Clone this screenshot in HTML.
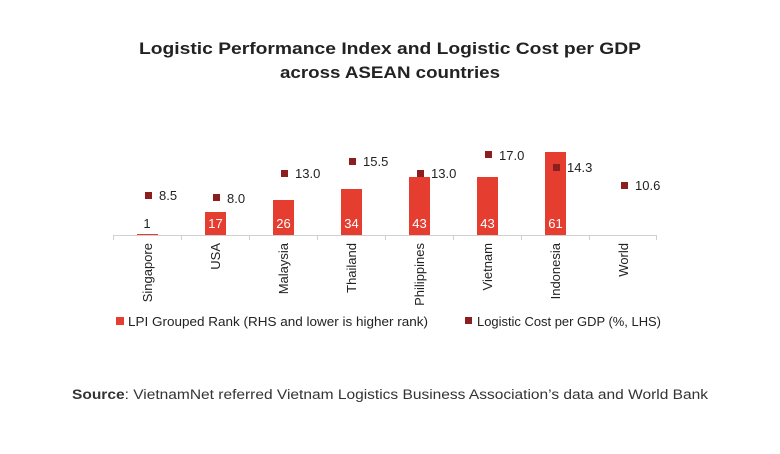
<!DOCTYPE html>
<html><head><meta charset="utf-8"><style>
body{margin:0;background:#fff;}
svg text{font-family:"Liberation Sans",sans-serif;}
</style></head><body>
<svg width="780" height="449" viewBox="0 0 780 449" xmlns="http://www.w3.org/2000/svg">
<rect width="780" height="449" fill="#fff"/>
<text x="139" y="54" font-size="17" font-weight="bold" fill="#222" textLength="502" lengthAdjust="spacingAndGlyphs">Logistic Performance Index and Logistic Cost per GDP</text>
<text x="280" y="78" font-size="17" font-weight="bold" fill="#222" textLength="220" lengthAdjust="spacingAndGlyphs">across ASEAN countries</text>
<g fill="#e53e30">
<rect x="137" y="234" width="21" height="1.5"/>
<rect x="205" y="212" width="21" height="23"/>
<rect x="273" y="200" width="21" height="35"/>
<rect x="341" y="189" width="21" height="46"/>
<rect x="409" y="177" width="21" height="58"/>
<rect x="477" y="177" width="21" height="58"/>
<rect x="545" y="152" width="21" height="83"/>
</g>
<g stroke="#d0d0d0" stroke-width="1">
<line x1="113" y1="235.5" x2="657" y2="235.5"/>
<line x1="113.5" y1="235" x2="113.5" y2="240"/><line x1="181.5" y1="235" x2="181.5" y2="240"/>
<line x1="249.5" y1="235" x2="249.5" y2="240"/><line x1="317.5" y1="235" x2="317.5" y2="240"/>
<line x1="385.5" y1="235" x2="385.5" y2="240"/><line x1="453.5" y1="235" x2="453.5" y2="240"/>
<line x1="521.5" y1="235" x2="521.5" y2="240"/><line x1="589.5" y1="235" x2="589.5" y2="240"/>
<line x1="656.5" y1="235" x2="656.5" y2="240"/>
</g>
<g font-size="13" text-anchor="middle" fill="#fff">
<text x="147" y="228" fill="#222">1</text>
<text x="215.5" y="228">17</text>
<text x="283.5" y="228">26</text>
<text x="351.5" y="228">34</text>
<text x="419.5" y="228">43</text>
<text x="487.5" y="228">43</text>
<text x="555.5" y="228">61</text>
</g>
<g fill="#8b1e1e">
<rect x="145" y="192" width="7" height="7"/>
<rect x="213" y="194" width="7" height="7"/>
<rect x="281" y="170" width="7" height="7"/>
<rect x="349" y="158" width="7" height="7"/>
<rect x="417" y="170" width="7" height="7"/>
<rect x="485" y="151" width="7" height="7"/>
<rect x="553" y="164" width="7" height="7"/>
<rect x="621" y="182" width="7" height="7"/>
</g>
<g font-size="13" fill="#222">
<text x="159" y="200">8.5</text>
<text x="227" y="203">8.0</text>
<text x="295" y="178">13.0</text>
<text x="363" y="166">15.5</text>
<text x="431" y="178">13.0</text>
<text x="499" y="160">17.0</text>
<text x="567" y="172">14.3</text>
<text x="635" y="190">10.6</text>
</g>
<g font-size="13" fill="#222" text-anchor="end">
<text transform="translate(152,243) rotate(-90)">Singapore</text>
<text transform="translate(220,243) rotate(-90)">USA</text>
<text transform="translate(288,243) rotate(-90)">Malaysia</text>
<text transform="translate(356,243) rotate(-90)">Thailand</text>
<text transform="translate(424,243) rotate(-90)">Philippines</text>
<text transform="translate(492,243) rotate(-90)">Vietnam</text>
<text transform="translate(560,243) rotate(-90)">Indonesia</text>
<text transform="translate(628,243) rotate(-90)">World</text>
</g>
<rect x="116" y="317" width="8" height="8" fill="#e53e30"/>
<text x="128" y="326" font-size="13" fill="#222" textLength="300" lengthAdjust="spacingAndGlyphs">LPI Grouped Rank (RHS and lower is higher rank)</text>
<rect x="465" y="317" width="7" height="7" fill="#8b1e1e"/>
<text x="477" y="326" font-size="13" fill="#222" textLength="184" lengthAdjust="spacingAndGlyphs">Logistic Cost per GDP (%, LHS)</text>
<text x="72" y="399" font-size="13.5" fill="#333" textLength="636" lengthAdjust="spacingAndGlyphs"><tspan font-weight="bold">Source</tspan>: VietnamNet referred Vietnam Logistics Business Association’s data and World Bank</text>
</svg>
</body></html>
